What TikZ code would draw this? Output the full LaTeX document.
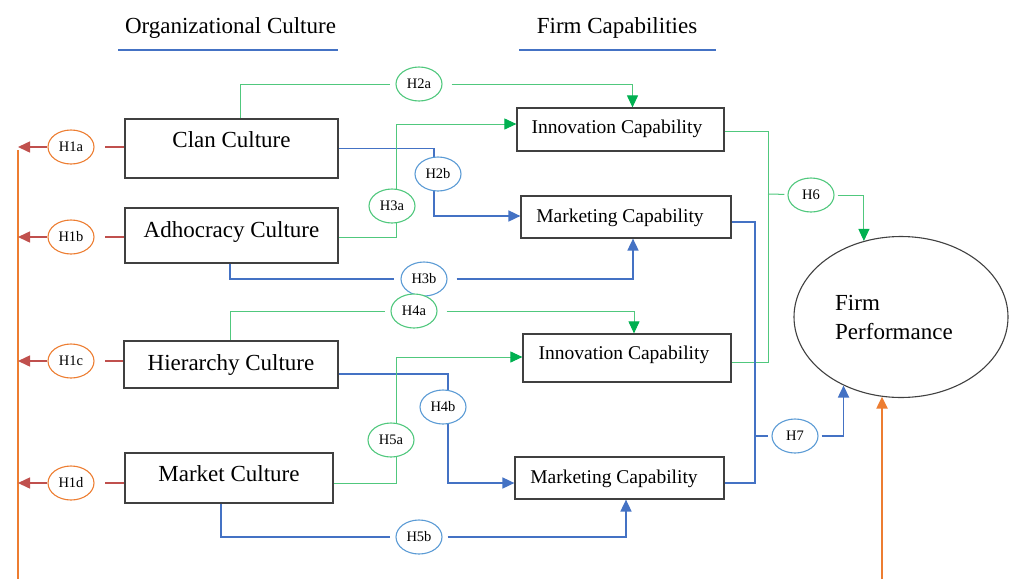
\documentclass[tikz,border=0pt]{standalone}
\usepackage{fontspec}
\setmainfont{Liberation Serif}
\usetikzlibrary{arrows.meta,shapes.geometric,backgrounds}

\definecolor{gline}{RGB}{80,200,125}
\definecolor{gtip}{RGB}{0,176,80}
\definecolor{bline}{RGB}{68,114,196}
\definecolor{bell}{RGB}{91,155,213}
\definecolor{oline}{RGB}{237,125,49}
\definecolor{rline}{RGB}{192,80,77}
\definecolor{boxline}{RGB}{64,64,64}

\tikzset{
  cbox/.style={draw=boxline, line width=1.2pt, inner sep=0pt},
  bigtxt/.style={font=\fontsize{23}{29}\selectfont, inner sep=0pt},
  captxt/.style={font=\fontsize{19.5}{24}\selectfont, inner sep=0pt},
  hyp/.style={ellipse, minimum width=46pt, minimum height=34pt, inner sep=0pt,
              line width=1.1pt, fill=white, font=\fontsize{14.5}{16}\selectfont},
  hg/.style={hyp, draw=gline},
  hb/.style={hyp, draw=bell},
  ho/.style={hyp, draw=oline},
  gcon/.style={draw=gline, line width=1pt},
  bcon/.style={draw=bline, line width=1.7pt},
  rcon/.style={draw=rline, line width=1.5pt},
  ocon/.style={draw=oline, line width=2.2pt},
  garr/.style={gcon, -{Triangle[length=12pt,width=11pt,color=gtip]}},
  barr/.style={bcon, -{Triangle[length=12pt,width=11pt]}},
  rarr/.style={rcon, -{Triangle[length=12pt,width=11pt]}},
  oarr/.style={ocon, -{Triangle[length=12pt,width=11pt]}},
  uline/.style={draw=bline, line width=1.5pt},
}

\begin{document}
\begin{tikzpicture}[x=1pt,y=-1pt]
\useasboundingbox (0,0) rectangle (1009,579);

% headings
\node[bigtxt, anchor=base] (hdrorg) at (230.5,33) {Organizational Culture};
\node[bigtxt, anchor=base] (hdrcap) at (617,33) {Firm Capabilities};
\draw[uline] (118,50) -- (338,50);
\draw[uline] (519,50) -- (716,50);

% culture boxes
\node[cbox, minimum width=213pt, minimum height=59pt] (clan) at (231.5,148.5) {};
\node[bigtxt, anchor=base] (clant) at (231.5,147) {Clan Culture};
\node[cbox, minimum width=213pt, minimum height=55pt] (adh) at (231.5,235.5) {};
\node[bigtxt, anchor=base] (adht) at (231.5,237) {Adhocracy Culture};
\node[cbox, minimum width=214pt, minimum height=47pt] (hier) at (231,364.5) {};
\node[bigtxt, anchor=base] (hiert) at (231,370) {Hierarchy Culture};
\node[cbox, minimum width=208pt, minimum height=50pt] (mkt) at (229,478) {};
\node[bigtxt, anchor=base] (mktt) at (229,481) {Market Culture};

% capability boxes
\node[cbox, minimum width=207pt, minimum height=43pt] (inn1) at (620.5,129.5) {};
\node[captxt, anchor=base] (inn1t) at (617,133) {Innovation Capability};
\node[cbox, minimum width=210pt, minimum height=42pt] (mar1) at (626,217) {};
\node[captxt, anchor=base] (mar1t) at (620,222) {Marketing Capability};
\node[cbox, minimum width=208pt, minimum height=48pt] (inn2) at (627,358) {};
\node[captxt, anchor=base] (inn2t) at (624,359) {Innovation Capability};
\node[cbox, minimum width=209pt, minimum height=42pt] (mar2) at (619.5,478) {};
\node[captxt, anchor=base] (mar2t) at (614,483) {Marketing Capability};

% outcome
\node[ellipse, draw=black!75, line width=1.1pt, minimum width=214pt, minimum height=161pt, inner sep=0pt] (fp) at (901,317) {};
\node[bigtxt, align=left, anchor=west] (fpt) at (835,317) {Firm\\Performance};

% hypothesis labels
\node[ho] (h1a) at (71,147) {H1a};
\node[ho] (h1b) at (71,237) {H1b};
\node[ho] (h1c) at (71,361) {H1c};
\node[ho] (h1d) at (71,483) {H1d};
\node[hg] (h2a) at (419,84) {H2a};
\node[hb] (h2b) at (438,174) {H2b};
\node[hg] (h3a) at (392,206) {H3a};
\node[hb] (h3b) at (424,279) {H3b};
\node[hg] (h4a) at (414,311) {H4a};
\node[hb] (h4b) at (443,407) {H4b};
\node[hg] (h5a) at (391,440) {H5a};
\node[hb] (h5b) at (419,537) {H5b};
\node[hg] (h6) at (811,195) {H6};
\node[hb] (h7) at (795,436) {H7};

% free ends and bus points
\coordinate (otop) at (18,150);
\coordinate (olow) at (18,579);
\coordinate (obot) at (882,579);
\coordinate (gbus) at (768,194);
\coordinate (bbus) at (755,436);

\begin{scope}[on background layer]
  % H1: cultures to the left bar
  \draw[ocon] (otop) -- (olow);
  \foreach \c/\h in {clan/h1a, adh/h1b, hier/h1c, mkt/h1d}{
    \draw[rcon, shorten >=10pt] (\c.west |- \h) -- (\h.east);
    \draw[rarr] (\h.west) -- (\h.west -| otop);
  }
  % H2
  \draw[gcon, shorten >=5pt] ([xshift=8.5pt]clan.north) |- (h2a);
  \draw[garr, shorten <=9pt] (h2a) -| ([xshift=12pt]inn1.north);
  \draw[bcon] (clan.east) -| ([xshift=-4pt]h2b.center);
  \draw[barr] ([xshift=-4pt]h2b.center) |- ([yshift=1pt]mar1.west);
  % H3
  \draw[gcon] ([yshift=-1.5pt]adh.east) -| ([xshift=4pt]h3a.center);
  \draw[garr] ([xshift=4pt]h3a.center) |- ([yshift=5.5pt]inn1.west);
  \draw[bcon, shorten >=6pt] ([xshift=-1.5pt]adh.south) |- (h3b);
  \draw[barr, shorten <=9pt] (h3b) -| ([xshift=7pt]mar1.south);
  % H4
  \draw[gcon, shorten >=5pt] ([xshift=-1pt]hier.north) |- (h4a);
  \draw[garr, shorten <=9pt] (h4a) -| ([xshift=7pt]inn2.north);
  \draw[bcon] ([yshift=-9.5pt]hier.east) -| ([xshift=5pt]h4b.center);
  \draw[barr] ([xshift=5pt]h4b.center) |- ([yshift=-5pt]mar2.west);
  % H5
  \draw[gcon] ([yshift=-5pt]mkt.east) -| ([xshift=5pt]h5a.center);
  \draw[garr] ([xshift=5pt]h5a.center) |- ([yshift=1pt]inn2.west);
  \draw[bcon, shorten >=5pt] ([xshift=-8pt]mkt.south) |- (h5b);
  \draw[barr, shorten <=5pt] (h5b) -| ([xshift=6.5pt]mar2.south);
  % H6: innovation to performance
  \draw[gcon] ([yshift=-1.5pt]inn1.east) -| (gbus) |- ([yshift=-4pt]inn2.east);
  \draw[gcon, shorten >=3pt] (gbus) -- (h6);
  \draw[garr, shorten <=3pt] (h6) -| (fp.116);
  % H7: marketing to performance
  \draw[bcon] ([yshift=-5pt]mar1.east) -| (bbus) |- ([yshift=-5pt]mar2.east);
  \draw[bcon, shorten >=3pt] (bbus) -- (h7);
  \draw[barr, shorten <=3pt] (h7) -| (fp.230);
  % H1 bar into performance
  \draw[oarr] (obot) -- (obot |- fp.256);
\end{scope}
\end{tikzpicture}
\end{document}
